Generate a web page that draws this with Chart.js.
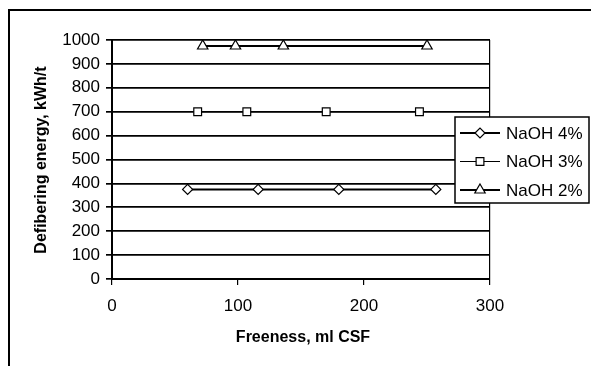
<!DOCTYPE html>
<html><head><meta charset="utf-8">
<script src="https://cdn.jsdelivr.net/npm/chart.js@4"></script>
<style>html,body{margin:0;padding:0;background:#fff}#wrap{width:591px;height:366px;position:relative}</style>
</head><body><div id="wrap"><canvas id="c" width="591" height="366"></canvas></div>
<script>
// ---- data ----
const xTicks = [0, 100, 200, 300];
const yTicks = [0, 100, 200, 300, 400, 500, 600, 700, 800, 900, 1000];
const seriesNames = ['NaOH 4%', 'NaOH 3%', 'NaOH 2%'];
const naoh4Freeness = [60, 116, 180, 257];
const naoh4Energy   = [375, 375, 375, 375];
const naoh3Freeness = [68, 107, 170, 244];
const naoh3Energy   = [700, 700, 700, 700];
const naoh2Freeness = [72, 98, 136, 250];
const naoh2Energy   = [975, 975, 975, 975];
const xTitle = 'Freeness, ml CSF';
const yTitle = 'Defibering energy, kWh/t';

const pts = (xs, ys) => xs.map((x, i) => ({x: x, y: ys[i]}));
const FONT = '"Liberation Sans", Arial, sans-serif';

const frame = {
  id: 'frame',
  beforeDraw(chart) {
    const ctx = chart.ctx;
    ctx.save();
    ctx.fillStyle = '#fff';
    ctx.fillRect(0, 0, chart.width, chart.height);
    ctx.strokeStyle = '#000';
    ctx.lineWidth = 2;
    ctx.beginPath();
    ctx.moveTo(9, 366); ctx.lineTo(9, 10); ctx.lineTo(591, 10);
    ctx.stroke();
    ctx.restore();
  },
  afterDraw(chart) {
    const ctx = chart.ctx;
    ctx.save();
    ctx.fillStyle = '#000';
    ctx.font = 'bold 16px ' + FONT;
    ctx.textAlign = 'center';
    ctx.textBaseline = 'middle';
    ctx.fillText(xTitle, 303, 338);
    ctx.translate(42, 160);
    ctx.rotate(-Math.PI / 2);
    ctx.fillText(yTitle, 0, 0);
    ctx.restore();

    // legend box
    const lx = 455, ly = 117, lw = 134, lh = 86;
    ctx.save();
    ctx.fillStyle = '#fff';
    ctx.fillRect(lx, ly, lw, lh);
    ctx.strokeStyle = '#000';
    ctx.lineWidth = 1.5;
    ctx.strokeRect(lx, ly, lw, lh);
    const rows = [133, 161.5, 190];
    chart.data.datasets.forEach((ds, i) => {
      const y = rows[i];
      ctx.strokeStyle = '#000';
      ctx.lineWidth = ds.borderWidth;
      ctx.beginPath(); ctx.moveTo(460, y); ctx.lineTo(500, y); ctx.stroke();
      ctx.fillStyle = '#fff';
      ctx.lineWidth = 1.2;
      Chart.helpers.drawPoint(ctx, {pointStyle: ds.pointStyle, radius: ds.pointRadius, rotation: 0, borderWidth: 1.2}, 480, y);
      ctx.fillStyle = '#000';
      ctx.font = '17px ' + FONT;
      ctx.textAlign = 'left';
      ctx.textBaseline = 'middle';
      ctx.fillText(ds.label, 506, y + 1);
    });
    ctx.restore();
  }
};

const common = {
  showLine: true, borderColor: '#000', pointBackgroundColor: '#fff',
  pointBorderColor: '#000', pointBorderWidth: 1.2, fill: false, tension: 0
};

new Chart(document.getElementById('c'), {
  type: 'scatter',
  data: {
    datasets: [
      Object.assign({}, common, {label: seriesNames[0], data: pts(naoh4Freeness, naoh4Energy), pointStyle: 'rectRot', pointRadius: 5, borderWidth: 2}),
      Object.assign({}, common, {label: seriesNames[1], data: pts(naoh3Freeness, naoh3Energy), pointStyle: 'rect', pointRadius: 5.5, borderWidth: 1}),
      Object.assign({}, common, {label: seriesNames[2], data: pts(naoh2Freeness, naoh2Energy), pointStyle: 'triangle', pointRadius: 6, borderWidth: 2})
    ]
  },
  options: {
    responsive: false, animation: false, devicePixelRatio: 1,
    layout: {padding: {left: 0, right: 101, top: 40, bottom: 0}},
    plugins: {legend: {display: false}, tooltip: {enabled: false}},
    scales: {
      x: {
        type: 'linear', min: 0, max: 300,
        afterBuildTicks: s => { s.ticks = xTicks.map(v => ({value: v})); },
        afterFit: s => { s.height = 87; },
        ticks: {color: '#000', font: {size: 17, family: FONT}, padding: 11, maxRotation: 0, callback: v => String(v)},
        grid: {
          color: c => (c.tick && c.tick.value === 300) ? '#000' : 'rgba(0,0,0,0)',
          tickColor: '#000', tickLength: 6, lineWidth: 1.2
        },
        border: {color: '#000', width: 2}
      },
      y: {
        min: 0, max: 1000,
        afterBuildTicks: s => { s.ticks = yTicks.map(v => ({value: v})); },
        afterFit: s => { s.width = 112; },
        ticks: {color: '#000', font: {size: 17, family: FONT}, padding: 6, callback: v => String(v)},
        grid: {color: '#000', tickColor: '#000', tickLength: 6, lineWidth: 1.7},
        border: {color: '#000', width: 2}
      }
    }
  },
  plugins: [frame]
});
</script></body></html>
